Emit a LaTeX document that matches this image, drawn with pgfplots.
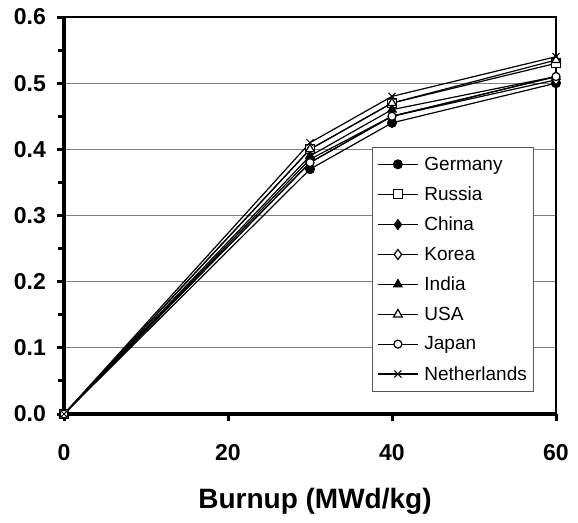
\documentclass[border=0pt]{standalone}
\usepackage{pgfplots}
\pgfplotsset{compat=1.18}
\usepackage{fontspec}
\setmainfont{Liberation Sans}
\begin{document}
\begin{tikzpicture}
\path[use as bounding box] (0,0) rectangle (578pt,522pt);
\begin{axis}[
  at={(64pt,108pt)}, anchor=south west,
  scale only axis, width=492pt, height=397pt,
  xmin=0, xmax=60, ymin=0, ymax=0.6,
  xtick={0,20,40,60}, ytick={0,0.1,0.2,0.3,0.4,0.5,0.6},
  minor y tick num=1,
  xtick pos=bottom, ytick pos=left,
  tick align=outside,
  major tick length=7pt, minor tick length=6pt,
  every tick/.style={black, line width=3pt},
  every minor tick/.style={black, line width=3pt},
  axis line style={black, line width=1.2pt},
  ymajorgrids, major grid style={gray, line width=0.8pt},
  /pgf/number format/assume math mode=true,
  yticklabel style={/pgf/number format/fixed, /pgf/number format/fixed zerofill, /pgf/number format/precision=1, anchor=east, xshift=-11pt},
  ticklabel style={font=\fontsize{23}{23}\selectfont\bfseries, inner sep=0pt},
  xticklabel style={anchor=north, yshift=-23pt},
  xlabel={Burnup (MWd/kg)},
  xlabel style={font=\fontsize{28}{28}\selectfont\bfseries, anchor=base, at={(axis description cs:0.5,0)}, yshift=-94pt, xshift=5pt},
  clip=false,
  legend style={at={(0.626,0.6725)}, anchor=north west, draw=gray!70!black, line width=0.8pt, fill=white,
    font=\fontsize{19}{19}\selectfont, cells={anchor=west}, row sep=11pt, inner xsep=5pt, inner ysep=7.5pt,
    /tikz/every odd column/.style={column sep=4pt}},
  legend image code/.code={\draw[mark repeat=2, mark phase=2, #1] plot coordinates {(0cm,0cm)(0.7cm,0cm)(1.4cm,0cm)};},
  every axis plot/.append style={black, line width=1.2pt, mark options={solid, line width=1pt}},
]
\addplot[mark=*, mark size=4.5pt] coordinates {(0,0)(30,0.37)(40,0.44)(60,0.50)};
\addlegendentry{Germany}
\addplot[mark=square*, mark size=4.5pt, mark options={fill=white}] coordinates {(0,0)(30,0.40)(40,0.47)(60,0.53)};
\addlegendentry{Russia}
\addplot[mark=diamond*, mark size=5pt] coordinates {(0,0)(30,0.38)(40,0.45)(60,0.51)};
\addlegendentry{China}
\addplot[mark=diamond*, mark size=5pt, mark options={fill=white}] coordinates {(0,0)(30,0.385)(40,0.45)(60,0.505)};
\addlegendentry{Korea}
\addplot[mark=triangle*, mark size=5pt] coordinates {(0,0)(30,0.39)(40,0.46)(60,0.51)};
\addlegendentry{India}
\addplot[mark=triangle*, mark size=5pt, mark options={fill=white}] coordinates {(0,0)(30,0.40)(40,0.47)(60,0.535)};
\addlegendentry{USA}
\addplot[mark=*, mark size=4pt, mark options={fill=white}] coordinates {(0,0)(30,0.38)(40,0.45)(60,0.51)};
\addlegendentry{Japan}
\addplot[mark=x, mark size=5pt] coordinates {(0,0)(30,0.41)(40,0.48)(60,0.54)};
\addlegendentry{Netherlands}
\draw[black, line width=4.5pt] (rel axis cs:0,0) -- (rel axis cs:0,1);
\draw[black, line width=4.5pt] (rel axis cs:0,0) -- (rel axis cs:1,0);
\end{axis}
\end{tikzpicture}
\end{document}
